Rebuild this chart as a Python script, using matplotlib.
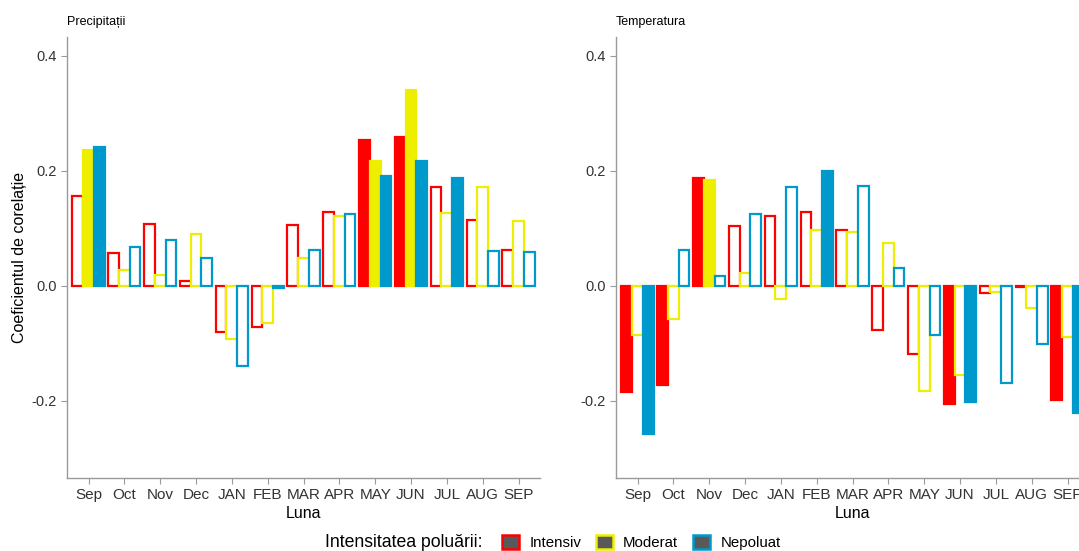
import numpy as np
import matplotlib.pyplot as plt
from matplotlib.patches import Patch
from matplotlib.offsetbox import HPacker

plt.rcParams['font.family'] = ['Liberation Sans', 'DejaVu Sans']

months = ["Sep", "Oct", "Nov", "Dec", "JAN", "FEB", "MAR", "APR", "MAY", "JUN", "JUL", "AUG", "SEP"]
groups = ["Intensiv", "Moderat", "Nepoluat"]
colors = {"Intensiv": "#FF0000", "Moderat": "#EEEE00", "Nepoluat": "#0099CC"}

# Precipitatii: correlation coefficients per group
prec_intensiv = [0.157, 0.057, 0.107, 0.009, -0.080, -0.072, 0.106, 0.129, 0.254, 0.259, 0.172, 0.115, 0.063]
prec_moderat = [0.237, 0.028, 0.019, 0.090, -0.092, -0.065, 0.049, 0.121, 0.217, 0.340, 0.126, 0.172, 0.113]
prec_nepoluat = [0.241, 0.067, 0.079, 0.048, -0.140, -0.004, 0.063, 0.125, 0.191, 0.218, 0.187, 0.060, 0.059]
# significant (filled) bars
prec_sig_intensiv = [0, 0, 0, 0, 0, 0, 0, 0, 1, 1, 0, 0, 0]
prec_sig_moderat = [1, 0, 0, 0, 0, 0, 0, 0, 1, 1, 0, 0, 0]
prec_sig_nepoluat = [1, 0, 0, 0, 0, 1, 0, 0, 1, 1, 1, 0, 0]

# Temperatura
temp_intensiv = [-0.185, -0.172, 0.188, 0.105, 0.122, 0.128, 0.097, -0.077, -0.119, -0.205, -0.013, -0.002, -0.198]
temp_moderat = [-0.085, -0.058, 0.184, 0.023, -0.023, 0.097, 0.093, 0.075, -0.182, -0.155, -0.011, -0.039, -0.089]
temp_nepoluat = [-0.257, 0.062, 0.017, 0.125, 0.172, 0.200, 0.174, 0.031, -0.085, -0.201, -0.168, -0.101, -0.221]
temp_sig_intensiv = [1, 1, 1, 0, 0, 0, 0, 0, 0, 1, 0, 0, 1]
temp_sig_moderat = [0, 0, 1, 0, 0, 0, 0, 0, 0, 0, 0, 0, 0]
temp_sig_nepoluat = [1, 0, 0, 0, 0, 1, 0, 0, 0, 1, 0, 0, 1]

panels = [
    ("Precipitații", [prec_intensiv, prec_moderat, prec_nepoluat],
     [prec_sig_intensiv, prec_sig_moderat, prec_sig_nepoluat]),
    ("Temperatura", [temp_intensiv, temp_moderat, temp_nepoluat],
     [temp_sig_intensiv, temp_sig_moderat, temp_sig_nepoluat]),
]

fig = plt.figure(figsize=(10.79, 5.51), dpi=100)
ax_w = 0.4384
lefts = [0.0621, 0.5709]
axes = [fig.add_axes([l, 0.1325, ax_w, 0.8005]) for l in lefts]

x = np.arange(len(months))
bw = 0.3
axis_grey = "#9a9a9a"
text_grey = "#333333"

for ax, (title, series, sigs) in zip(axes, panels):
    for k, g in enumerate(groups):
        c = colors[g]
        fills = [c if s else "white" for s in sigs[k]]
        ax.bar(x + (k - 1) * bw, series[k], width=bw, color=fills,
               edgecolor=c, linewidth=1.6)
    ax.set_xlim(-0.6, len(months) - 0.4)
    ax.set_ylim(-0.334, 0.433)
    ax.set_yticks([-0.2, 0.0, 0.2, 0.4])
    ax.set_yticklabels(["-0.2", "0.0", "0.2", "0.4"])
    ax.set_xticks(x)
    ax.set_xticklabels(months)
    ax.tick_params(axis='both', colors=axis_grey, labelcolor=text_grey,
                   length=4, width=0.8)
    ax.tick_params(axis='x', labelsize=11, pad=3)
    ax.tick_params(axis='y', labelsize=10.5)
    for side in ["top", "right"]:
        ax.spines[side].set_visible(False)
    for side in ["left", "bottom"]:
        ax.spines[side].set_color(axis_grey)
        ax.spines[side].set_linewidth(1.0)
    ax.set_xlabel("Luna", fontsize=11.5, color="black", labelpad=3)
    ax.text(0.0, 1.02, title, transform=ax.transAxes, fontsize=9,
            ha='left', va='bottom', color="black")

axes[0].set_ylabel("Coeficientul de corelație", fontsize=11.5, color="black", labelpad=3)

handles = [Patch(facecolor="#595959", edgecolor=colors[g], linewidth=1.8, label=g) for g in groups]
leg = fig.legend(handles=handles, labels=groups, loc='center', bbox_to_anchor=(0.5125, 0.016),
                 ncol=3, frameon=False, fontsize=10.8, title="Intensitatea poluării:",
                 title_fontsize=12.7, handlelength=1.1, handleheight=1.1,
                 handletextpad=0.7, columnspacing=1.0)
# put the title on the same line as the keys
box = leg._legend_box
box.__class__ = HPacker
box.sep = 14

fig.savefig("out.png", dpi=100)
